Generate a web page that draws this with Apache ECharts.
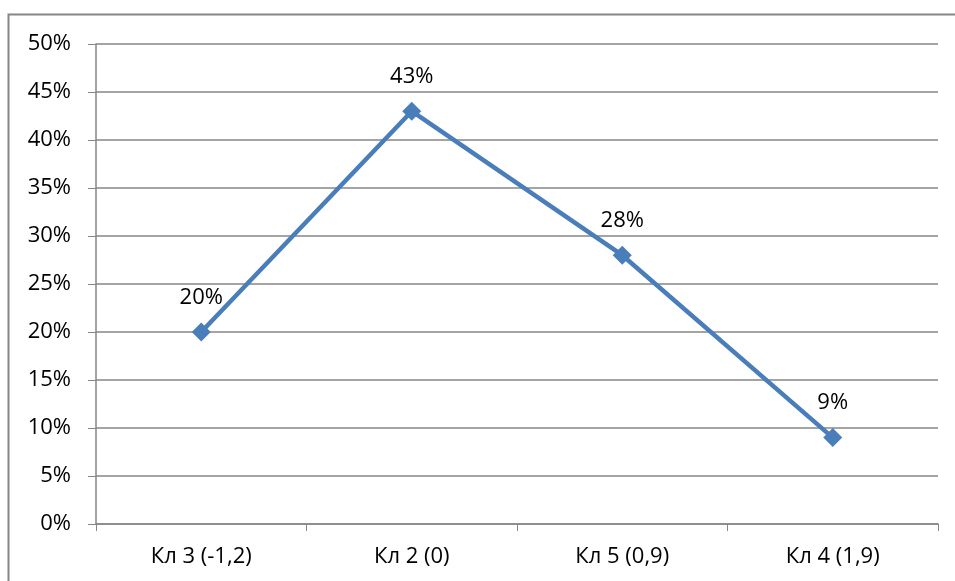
<!DOCTYPE html>
<html><head><meta charset="utf-8">
<script src="https://cdn.jsdelivr.net/npm/echarts@6/dist/echarts.min.js"></script>
<style>html,body{margin:0;padding:0;background:#fff}#c{width:955px;height:581px}</style>
</head><body><div id="c"></div>
<script>
var categories = ['Кл 3 (-1,2)', 'Кл 2 (0)', 'Кл 5 (0,9)', 'Кл 4 (1,9)'];
var values = [20, 43, 28, 9];
var yTicks = [0, 5, 10, 15, 20, 25, 30, 35, 40, 45, 50];

var chart = echarts.init(document.getElementById('c'));
var font = "'Open Sans', 'Liberation Sans', sans-serif";
chart.setOption({
  animation: false,
  textStyle: { fontFamily: font },
  graphic: [{
    type: 'polyline', silent: true,
    shape: { points: [[8.5, 600], [8.5, 14.5], [960, 14.5]] },
    style: { stroke: '#868686', lineWidth: 2, fill: null }
  }],
  grid: { left: 96, right: 17, top: 44, bottom: 57, containLabel: false },
  xAxis: {
    type: 'category', data: categories, boundaryGap: true,
    axisLine: { lineStyle: { color: '#868686', width: 1.5 } },
    axisTick: { show: true, length: 7, lineStyle: { color: '#868686' } },
    axisLabel: { color: '#000', fontSize: 22, margin: 22, fontFamily: font }
  },
  yAxis: {
    type: 'value', min: yTicks[0], max: yTicks[yTicks.length - 1], interval: 5,
    axisLine: { show: true, lineStyle: { color: '#868686', width: 1.5 } },
    axisTick: { show: true, length: 8, lineStyle: { color: '#868686' } },
    splitLine: { lineStyle: { color: '#868686', width: 1.5 } },
    axisLabel: { color: '#000', fontSize: 22, margin: 25, fontFamily: font, formatter: '{value}%' }
  },
  series: [{
    type: 'line', data: values,
    symbol: 'diamond', symbolSize: 19,
    lineStyle: { color: '#4A7EBB', width: 4.5 },
    itemStyle: { color: '#4A7EBB' },
    label: { show: true, position: 'top', distance: 14, color: '#000', fontSize: 22, fontFamily: font, formatter: '{c}%' }
  }]
});
</script></body></html>
